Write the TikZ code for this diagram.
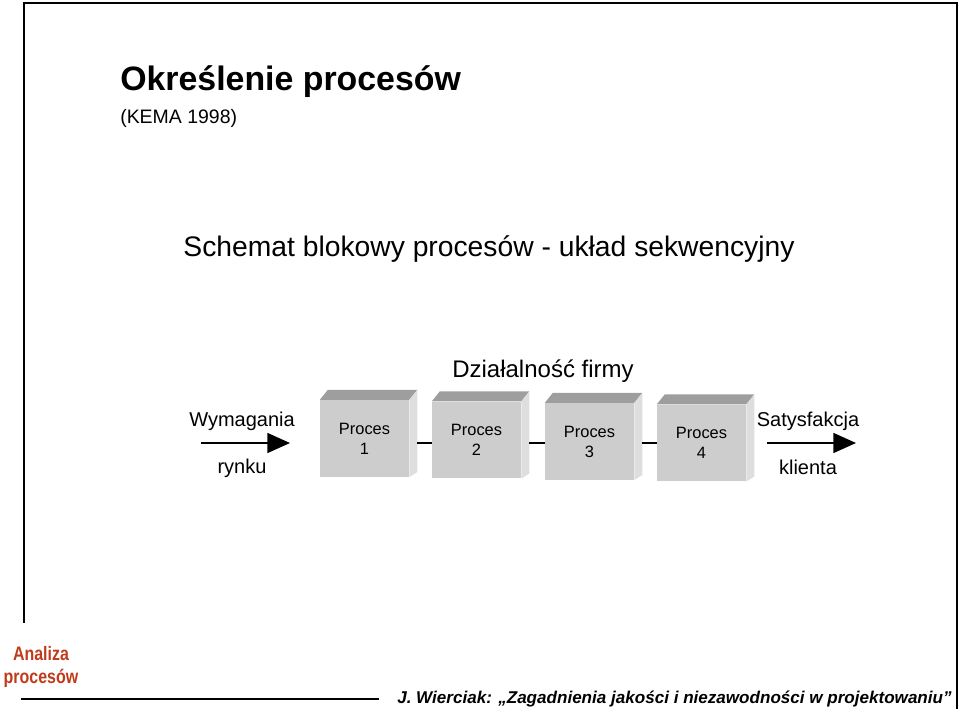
\documentclass[tikz,border=0pt]{standalone}
\usepackage{fontspec}
\setmainfont{Liberation Sans}
\usetikzlibrary{arrows.meta}
\definecolor{frontgray}{RGB}{205,205,205}
\definecolor{topgray}{RGB}{158,158,158}
\definecolor{sidegray}{RGB}{222,222,222}
\definecolor{footred}{RGB}{192,58,28}
\tikzset{
  frame/.style={line width=1.5pt, line cap=rect},
  procbox/.style={fill=frontgray, minimum width=66.75pt, minimum height=57.5pt,
    inner sep=0pt, align=center, font=\fontsize{12.3pt}{15pt}\selectfont},
  lbl/.style={inner sep=0pt, font=\fontsize{15pt}{18pt}\selectfont},
  flow/.style={line width=1.1pt, -{Triangle[length=17pt,width=15pt]}},
  link/.style={line width=0.8pt}
}
\newcommand{\cubeface}[1]{%
  \fill[topgray] (#1.north west) -- ++(8,-10) -- ([shift={(8,-10)}]#1.north east) -- (#1.north east) -- cycle;
  \fill[sidegray] (#1.north east) -- ++(8,-10) -- ([shift={(8,-5)}]#1.south east) -- (#1.south east) -- cycle;
}
\begin{document}
\begin{tikzpicture}[x=0.75pt,y=-0.75pt]
\useasboundingbox (0,0) rectangle (960,710);
% frame
\draw[frame] (24,622) -- (24,3) -- (957,3) -- (957,708);
\draw[frame] (22,699) -- (378,699);
% titles
\node[anchor=base west, inner sep=0pt, font=\bfseries\fontsize{25.4pt}{30pt}\selectfont] (t1) at (120,91) {Określenie procesów};
\node[anchor=base west, inner sep=0pt, font=\fontsize{14.6pt}{17pt}\selectfont] (t2) at (120,123) {(KEMA 1998)};
\node[anchor=base, inner sep=0pt, font=\fontsize{21.2pt}{25pt}\selectfont] (t3) at (489,256) {Schemat blokowy procesów - układ sekwencyjny};
\node[anchor=base, inner sep=0pt, font=\fontsize{18pt}{21pt}\selectfont] (t4) at (543,377) {Działalność firmy};
% boxes
\node[procbox] (b1) at (364.5,438.5) {Proces\\1};
\node[procbox] (b2) at (476.5,440) {Proces\\2};
\node[procbox] (b3) at (589.5,441.5) {Proces\\3};
\node[procbox] (b4) at (701.5,443) {Proces\\4};
\cubeface{b1}\cubeface{b2}\cubeface{b3}\cubeface{b4}
% links
\draw[link] ([xshift=6pt]b1.east |- 0,443) -- (b2.west |- 0,443);
\draw[link] ([xshift=6pt]b2.east |- 0,443) -- (b3.west |- 0,443);
\draw[link] ([xshift=6pt]b3.east |- 0,443) -- (b4.west |- 0,443);
% in/out arrows
\node[lbl, anchor=base] (w1) at (242,426) {Wymagania};
\node[lbl, anchor=base] (w2) at (242,473) {rynku};
\coordinate (ia) at (201,443);
\coordinate (ib) at (290,443);
\draw[flow] (ia) -- (ib);
\node[lbl, anchor=base] (s1) at (808,426) {Satysfakcja};
\node[lbl, anchor=base] (s2) at (808,474) {klienta};
\coordinate (oa) at (767,443);
\coordinate (ob) at (856,443);
\draw[flow] (oa) -- (ob);
% footer
\node[anchor=base, inner sep=0pt, xscale=0.82, text=footred, font=\bfseries\fontsize{14.6pt}{17pt}\selectfont] (f1) at (41,660) {Analiza};
\node[anchor=base, inner sep=0pt, xscale=0.82, text=footred, font=\bfseries\fontsize{14.6pt}{17pt}\selectfont] (f2) at (41,683) {procesów};
\node[anchor=base west, inner sep=0pt, font=\bfseries\itshape\fontsize{12.8pt}{15pt}\selectfont] (f3) at (397,703) {J. Wierciak: „Zagadnienia jakości i niezawodności w projektowaniu”};
\end{tikzpicture}
\end{document}
